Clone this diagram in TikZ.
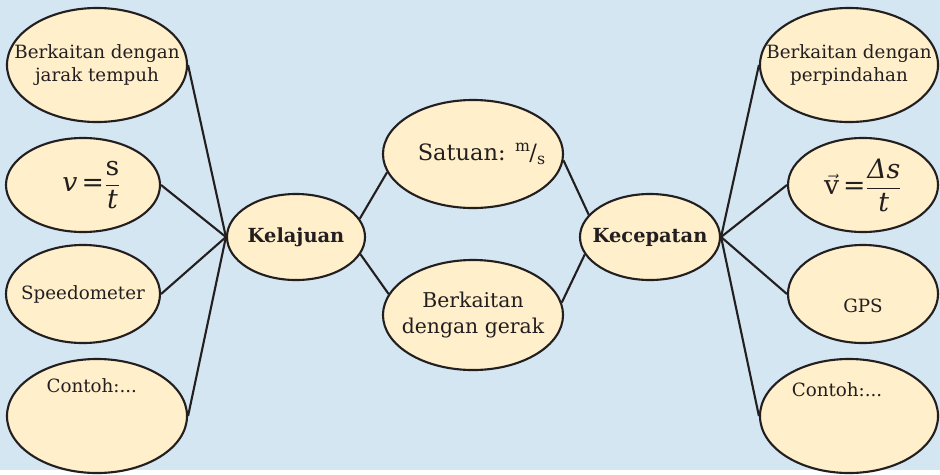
\documentclass[tikz,border=0pt]{standalone}
\usepackage{amsmath}
\usepackage{fontspec}
\setmainfont{DejaVu Serif}
\usetikzlibrary{shapes.geometric}

\definecolor{latar}{HTML}{D4E6F1}
\definecolor{isi}{HTML}{FFEFCA}
\definecolor{tinta}{HTML}{231F20}

\tikzset{
    gelembung/.style={ellipse, draw=tinta, fill=isi, line width=1.5pt, inner sep=0pt},
    teks/.style={text=tinta, align=center, font=\fontsize{13}{16}\selectfont},
    teksbesar/.style={text=tinta, align=center, font=\fontsize{14.5}{18}\selectfont},
    judul/.style={text=tinta, font=\fontsize{13.8}{16}\selectfont\bfseries},
    rumusteks/.style={text=tinta, font=\fontsize{19}{22}\selectfont},
    garis/.style={draw=tinta, line width=1.5pt}
}

\begin{document}
\begin{tikzpicture}[x=0.025cm,y=-0.025cm]
                \fill[latar] (0,0) rectangle (940,470);

                % Kelajuan
                \node[gelembung, minimum width=3.45cm, minimum height=2.15cm, label={[judul]center:Kelajuan}] (kel) at (296,237) {};
                \node[gelembung, minimum width=4.5cm, minimum height=2.85cm, label={[teks]center:Berkaitan dengan\\jarak tempuh}] (jarak) at (97,65) {};
                \node[gelembung, minimum width=3.85cm, minimum height=2.35cm, label={[rumusteks, xshift=0.22cm]center:$\textit{v}\,\textup{=}\dfrac{\textup{s}}{\textit{t}}$}] (rumus) at (83,185) {};
                \node[gelembung, minimum width=3.85cm, minimum height=2.45cm, label={[teks]center:Speedometer}] (speedo) at (83,294) {};
                \node[gelembung, minimum width=4.5cm, minimum height=2.85cm, label={[teks, xshift=-0.13cm, yshift=0.75cm]center:Contoh:...}] (contohL) at (97,416) {};

                % tengah
                \node[gelembung, minimum width=4.5cm, minimum height=2.7cm, label={[teksbesar, font=\fontsize{16}{18}\selectfont, xshift=0.22cm]center:Satuan: \textsuperscript{m}\kern-1pt/\textsubscript{s}}] (satuan) at (473,154) {};
                \node[gelembung, minimum width=4.5cm, minimum height=2.75cm, label={[teksbesar]center:Berkaitan\\dengan gerak}] (gerak) at (473,315) {};

                % Kecepatan
                \node[gelembung, minimum width=3.5cm, minimum height=2.15cm, label={[judul]center:Kecepatan}] (kec) at (650,237) {};
                \node[gelembung, minimum width=4.45cm, minimum height=2.85cm, label={[teks]center:Berkaitan dengan\\perpindahan}] (pindah) at (849,65) {};
                \node[gelembung, minimum width=3.75cm, minimum height=2.35cm, label={[rumusteks]center:$\vec{\textup{v}}\,\textup{=}\dfrac{\textit{Δs}}{\textit{t}}$}] (rumusv) at (863,185) {};
                \node[gelembung, minimum width=3.75cm, minimum height=2.45cm, label={[teks, yshift=-0.3cm]center:GPS}] (gps) at (863,294) {};
                \node[gelembung, minimum width=4.45cm, minimum height=2.85cm, label={[teks, xshift=-0.3cm, yshift=0.65cm]center:Contoh:...}] (contohR) at (849,416) {};

                \draw[garis] (jarak.east) -- (kel.west);
                \draw[garis] (rumus.east) -- (kel.west);
                \draw[garis] (speedo.east) -- (kel.west);
                \draw[garis] (contohL.east) -- (kel.west);
                \draw[garis] (kel.16) -- (satuan.192);
                \draw[garis] (kel.-15) -- (gerak.166);
                \draw[garis] (satuan.-4) -- (kec.160);
                \draw[garis] (gerak.8) -- (kec.195);
                \draw[garis] (kec.east) -- (pindah.west);
                \draw[garis] (kec.east) -- (rumusv.west);
                \draw[garis] (kec.east) -- (gps.west);
                \draw[garis] (kec.east) -- (contohR.west);
            \end{tikzpicture}
\end{document}
